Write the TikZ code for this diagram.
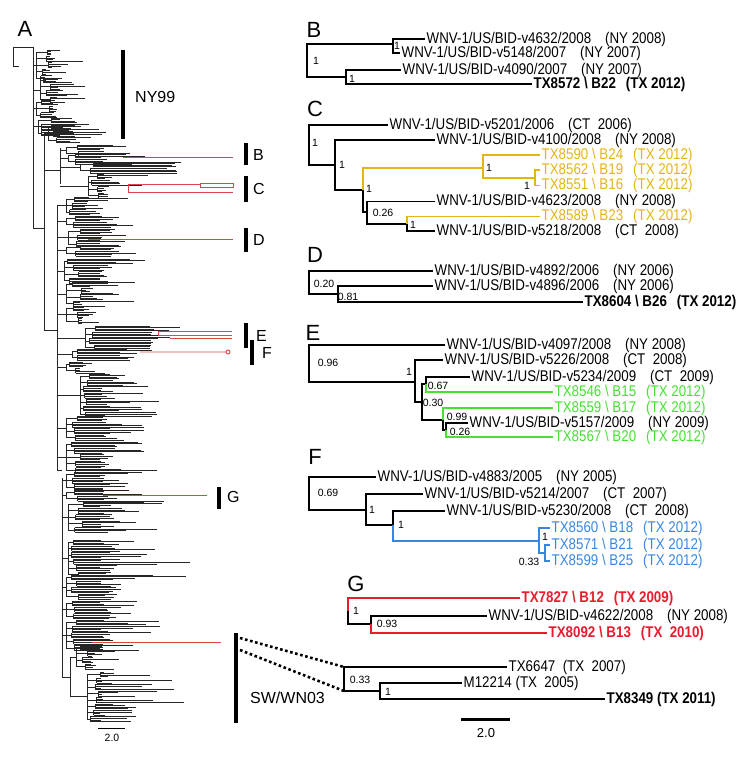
\documentclass[tikz,border=0pt]{standalone}
\usepackage{fontspec}
\setmainfont{Liberation Sans}
\newfontfamily\leaffont[FakeStretch=0.86]{Liberation Sans}
\usetikzlibrary{positioning}
\definecolor{cYel}{RGB}{228,180,20}
\definecolor{cGrn}{RGB}{70,225,50}
\definecolor{cBlu}{RGB}{55,135,225}
\definecolor{cRed}{RGB}{232,28,45}
\definecolor{cRedA}{RGB}{222,70,70}

\newcommand{\cladeA}[6]{%
  \pgfmathtruncatemacro{\cgn}{max(0,floor((#4-#3)/6.4))}%
  \pgfmathsetmacro{\cgtop}{#3+2.4}%
  \pgfmathsetmacro{\cgbot}{#3+\cgn*6.4+2.4}%
  \pgfmathsetmacro{\cgmid}{(\cgtop+\cgbot)/2}%
  \draw[twig] (#1,\cgmid) -- (#2,\cgmid) (#2,\cgtop) -- (#2,\cgbot);%
  \foreach \k in {0,...,\cgn}{%
    \pgfmathsetmacro{\cgy}{#3+\k*6.4}%
    \pgfmathsetmacro{\cgx}{#2+3+rnd*12}%
    \draw[twig] (#2,\cgy+2.4) -- (\cgx,\cgy+2.4) (\cgx,\cgy) -- (\cgx,\cgy+4.8);%
    \foreach \j in {0,...,3}{%
      \pgfmathsetmacro{\cgt}{max(\cgx+4,#5+rnd*rnd*(#6-#5))}%
      \draw[twig] (\cgx,\cgy+\j*1.6) -- (\cgt,\cgy+\j*1.6);%
    }%
  }%
}

\begin{document}
\begin{tikzpicture}[
        x=1pt, y=-1pt,
        branch/.style={line width=1.7pt},
        twig/.style={draw=black!85, line width=0.7pt},
        redA/.style={draw=cRedA, line width=0.9pt},
        leaf/.style={
            anchor=west,
            inner sep=1.5pt,
            font=\leaffont\fontsize{15.5}{16}\selectfont
        },
        tx/.style={leaf, font=\leaffont\fontsize{15.5}{16}\selectfont\bfseries},
        sup/.style={inner sep=0pt, font=\fontsize{10.5}{11}\selectfont},
        panel/.style={font=\fontsize{22}{24}\selectfont},
        clade/.style={anchor=west, inner sep=0pt, font=\fontsize{16}{18}\selectfont},
        bar/.style={line width=3.5pt},
        link/.style={line width=2.6pt, dash pattern=on 2.6pt off 2.6pt}
    ]
    \useasboundingbox (0,0) rectangle (750,757);
    \pgfmathsetseed{11}

    % A
    \node[panel] (labA) at (25,29) {A};
    \draw[twig] (13,47) -- (13,66) (13,47) -- (33,47) (13,66) -- (19,66);
    \draw[twig] (33,47) -- (33,228) -- (44,228);
    \draw[twig] (44,133) -- (44,330) -- (57,330);
    \draw[twig] (57,205) -- (57,470) -- (62,470);
    \draw[twig] (62,478) -- (62,677) -- (70,677) (70,657) -- (70,697);
    \draw[twig] (44,170) -- (60,170) (60,148) -- (60,184);
    \cladeA{33}{36}{50}{76}{42}{97}
    \cladeA{33}{40}{78}{100}{55}{102}
    \cladeA{33}{36}{100}{118}{50}{75}
    \cladeA{33}{38}{118}{132}{60}{108}
    \cladeA{44}{48}{125}{142}{70}{103}
    \cladeA{60}{66}{145}{152}{100}{157}
    \cladeA{60}{68}{153}{160}{100}{157}
    \cladeA{60}{80}{162}{172}{165}{193}
    \cladeA{60}{88}{174}{194}{100}{170}
    \cladeA{57}{66}{197}{215}{85}{115}
    \cladeA{57}{66}{216}{226}{100}{170}
    \cladeA{57}{68}{229}{244}{100}{160}
    \cladeA{57}{66}{245}{256}{110}{165}
    \cladeA{57}{64}{259}{280}{100}{170}
    \cladeA{57}{66}{282}{305}{80}{145}
    \cladeA{57}{66}{306}{324}{80}{117}
    \cladeA{57}{85}{326}{348}{150}{185}
    \cladeA{57}{72}{349}{360}{120}{157}
    \cladeA{57}{66}{362}{372}{80}{110}
    \cladeA{57}{80}{374}{414}{100}{180}
    \cladeA{57}{66}{416}{440}{100}{170}
    \cladeA{57}{66}{442}{468}{100}{183}
    \cladeA{62}{66}{472}{490}{100}{170}
    \cladeA{62}{66}{490}{500}{100}{190}
    \cladeA{62}{68}{502}{530}{100}{170}
    \cladeA{62}{68}{540}{572}{100}{207}
    \cladeA{62}{66}{575}{600}{100}{170}
    \cladeA{62}{66}{601}{618}{100}{170}
    \cladeA{62}{66}{620}{650}{100}{195}
    \cladeA{70}{76}{645}{668}{90}{150}
    \cladeA{70}{87}{672}{720}{100}{208}
    \draw[redA] (123,157) -- (233,157);
    \draw[redA] (128,184) -- (128,192) (128,184) -- (200,184)
        (200,183) rectangle (233,187.5) (128,192) -- (233,192);
    \draw[redA] (88,239) -- (233,239);
    \draw[redA] (158,331) -- (158,335) (158,331) -- (232,331)
        (158,335) -- (232,335) (170,338) -- (232,338);
    \draw[redA] (140,352) -- (226,352) (228,352) circle (2);
    \draw[redA] (103,495) -- (207,495);
    \draw[redA] (92,642) -- (221,642);
    \draw[bar] (123,50) -- (123,139);
    \node[clade] (cNY) at (135,97) {NY99};
    \draw[bar] (246,143) -- (246,165);
    \node[clade] (cB) at (253,155) {B};
    \draw[bar] (246,176) -- (246,202);
    \node[clade] (cC) at (253,189) {C};
    \draw[bar] (246,228) -- (246,252);
    \node[clade] (cD) at (253,240) {D};
    \draw[bar] (246,323) -- (246,348);
    \node[clade] (cE) at (256,336) {E};
    \draw[bar] (252,340) -- (252,365);
    \node[clade] (cF) at (262,353) {F};
    \draw[bar] (219,487) -- (219,509);
    \node[clade] (cG) at (227,497) {G};
    \draw[bar] (236,633) -- (236,723);
    \node[clade] (cSW) at (250,698) {SW/WN03};
    \draw[line width=0.8pt] (98,728) -- (125,728);
    \node[sup] (scaleA) at (112,738) {2.0};

    % B
    \node[panel] (labB) at (314,30) {B};
    \coordinate (b0) at (307,61);
    \coordinate (b1) at (393,44);
    \coordinate (b2) at (346,77);
    \node[leaf] (b4632) at (425,39) {WNV-1/US/BID-v4632/2008\hspace{14pt}(NY 2008)};
    \node[leaf] (b5148) at (400,53) {WNV-1/US/BID-v5148/2007\hspace{14pt}(NY 2007)};
    \node[leaf] (b4090) at (401,70) {WNV-1/US/BID-v4090/2007\hspace{14pt}(NY 2007)};
    \node[tx] (b8572) at (532,84) {TX8572 \textbackslash{} B22\hspace{10pt}(TX 2012)};
    \draw[branch] (b0) |- (b1) (b0) |- (b2);
    \draw[branch] (b1) |- (b4632.west) (b1) |- (b5148.west);
    \draw[branch] (b2) |- (b4090.west) (b2) |- (b8572.west);
    \node[sup] (sb0) at (316,61) {1};
    \node[sup] (sb1) at (397,46) {1};
    \node[sup] (sb2) at (352,79) {1};

    % C
    \node[panel] (labC) at (315,109) {C};
    \coordinate (c0) at (309,145);
    \coordinate (c1) at (335,165);
    \coordinate (c2) at (363,190);
    \coordinate (c3) at (483,168);
    \coordinate (c4) at (367,212);
    \coordinate (c5) at (407,224);
    \coordinate (c6) at (535,178);
    \node[leaf] (c5201) at (388,125) {WNV-1/US/BID-v5201/2006\hspace{14pt}(CT\ \ 2006)};
    \node[leaf] (c4100) at (435,140) {WNV-1/US/BID-v4100/2008\hspace{14pt}(NY 2008)};
    \node[leaf, text=cYel] (c8590) at (540,155) {TX8590 \textbackslash{} B24\hspace{10pt}(TX 2012)};
    \node[leaf, text=cYel] (c8562) at (540,170) {TX8562 \textbackslash{} B19\hspace{10pt}(TX 2012)};
    \node[leaf, text=cYel] (c8551) at (540,185.5) {TX8551 \textbackslash{} B16\hspace{10pt}(TX 2012)};
    \node[leaf] (c4623) at (435,201.5) {WNV-1/US/BID-v4623/2008\hspace{14pt}(NY 2008)};
    \node[leaf, text=cYel] (c8589) at (540,216.5) {TX8589 \textbackslash{} B23\hspace{10pt}(TX 2012)};
    \node[leaf] (c5218) at (435,231) {WNV-1/US/BID-v5218/2008\hspace{14pt}(CT\ \ 2008)};
    \draw[branch] (c0) |- (c5201.west) (c0) |- (c1);
    \draw[branch] (c1) |- (c4100.west) (c1) |- (c2);
    \draw[branch, draw=cYel] (c2) |- (c3);
    \draw[branch] (c2) |- (c4);
    \draw[branch, draw=cYel] (c3) |- (c8590.west) (c3) |- (c6);
    \draw[branch, draw=cYel] (c6) |- (c8562.west) (c6) |- (c8551.west);
    \draw[branch] (c4) |- (c4623.west) (c4) |- (c5);
    \draw[branch, draw=cYel] (c5) |- (c8589.west);
    \draw[branch] (c5) |- (c5218.west);
    \node[sup] (sc0) at (315,143) {1};
    \node[sup] (sc1) at (342,165) {1};
    \node[sup] (sc2) at (369,189) {1};
    \node[sup] (sc4) at (383,213) {0.26};
    \node[sup] (sc5) at (413,225) {1};
    \node[sup] (sc3) at (489,168) {1};
    \node[sup] (sc6) at (527,186) {1};

    % D
    \node[panel] (labD) at (315,255) {D};
    \coordinate (d0) at (309,282);
    \coordinate (d1) at (338,294);
    \node[leaf] (d4892) at (433,271) {WNV-1/US/BID-v4892/2006\hspace{14pt}(NY 2006)};
    \node[leaf] (d4896) at (433,286) {WNV-1/US/BID-v4896/2006\hspace{14pt}(NY 2006)};
    \node[tx] (d8604) at (583,302) {TX8604 \textbackslash{} B26\hspace{10pt}(TX 2012)};
    \draw[branch] (d0) |- (d4892.west) (d0) |- (d1);
    \draw[branch] (d1) |- (d4896.west) (d1) |- (d8604.west);
    \node[sup] (sd0) at (324,284) {0.20};
    \node[sup] (sd1) at (348,297) {0.81};

    % E
    \node[panel] (labE) at (313,333) {E};
    \coordinate (e0) at (309,363);
    \coordinate (e1) at (415,382);
    \coordinate (e2) at (422,402);
    \coordinate (e3) at (426,384);
    \coordinate (e4) at (443,420);
    \coordinate (e5) at (446,430);
    \node[leaf] (e4097) at (445,345) {WNV-1/US/BID-v4097/2008\hspace{14pt}(NY 2008)};
    \node[leaf] (e5226) at (443,360) {WNV-1/US/BID-v5226/2008\hspace{14pt}(CT\ \ 2008)};
    \node[leaf] (e5234) at (470,377) {WNV-1/US/BID-v5234/2009\hspace{14pt}(CT\ \ 2009)};
    \node[leaf, text=cGrn] (e8546) at (553,392) {TX8546 \textbackslash{} B15\hspace{10pt}(TX 2012)};
    \node[leaf, text=cGrn] (e8559) at (553,408) {TX8559 \textbackslash{} B17\hspace{10pt}(TX 2012)};
    \node[leaf] (e5157) at (468,423) {WNV-1/US/BID-v5157/2009\hspace{14pt}(NY 2009)};
    \node[leaf, text=cGrn] (e8567) at (553,437) {TX8567 \textbackslash{} B20\hspace{10pt}(TX 2012)};
    \draw[branch] (e0) |- (e4097.west) (e0) |- (e1);
    \draw[branch] (e1) |- (e5226.west) (e1) |- (e2);
    \draw[branch] (e2) |- (e3) (e2) |- (e4);
    \draw[branch] (e3) |- (e5234.west);
    \draw[branch, draw=cGrn] (e3) |- (e8546.west);
    \draw[branch, draw=cGrn] (e4) |- (e8559.west);
    \draw[branch] (e4) |- (e5);
    \draw[branch] (e5) |- (e5157.west);
    \draw[branch, draw=cGrn] (e5) |- (e8567.west);
    \node[sup] (se0) at (328,363) {0.96};
    \node[sup] (se1) at (409,372) {1};
    \node[sup] (se2) at (433,403) {0.30};
    \node[sup] (se3) at (438,386) {0.67};
    \node[sup] (se4) at (457,417) {0.99};
    \node[sup] (se5) at (460,432) {0.26};

    % F
    \node[panel] (labF) at (315,457) {F};
    \coordinate (f0) at (309,493);
    \coordinate (f1) at (366,510);
    \coordinate (f2) at (393,525);
    \coordinate (f3) at (539,541);
    \coordinate (f4) at (545,553);
    \node[leaf] (f4883) at (376,477) {WNV-1/US/BID-v4883/2005\hspace{14pt}(NY 2005)};
    \node[leaf] (f5214) at (423,494) {WNV-1/US/BID-v5214/2007\hspace{14pt}(CT\ \ 2007)};
    \node[leaf] (f5230) at (445,511) {WNV-1/US/BID-v5230/2008\hspace{14pt}(CT\ \ 2008)};
    \node[leaf, text=cBlu] (f8560) at (550,528) {TX8560 \textbackslash{} B18\hspace{10pt}(TX 2012)};
    \node[leaf, text=cBlu] (f8571) at (550,545) {TX8571 \textbackslash{} B21\hspace{10pt}(TX 2012)};
    \node[leaf, text=cBlu] (f8599) at (550,561) {TX8599 \textbackslash{} B25\hspace{10pt}(TX 2012)};
    \draw[branch] (f0) |- (f4883.west) (f0) |- (f1);
    \draw[branch] (f1) |- (f5214.west) (f1) |- (f2);
    \draw[branch] (f2) |- (f5230.west);
    \draw[branch, draw=cBlu] (f2) |- (f3);
    \draw[branch, draw=cBlu] (f3) |- (f8560.west) (f3) |- (f4);
    \draw[branch, draw=cBlu] (f4) |- (f8571.west) (f4) |- (f8599.west);
    \node[sup] (sf0) at (328,493) {0.69};
    \node[sup] (sf1) at (372,510) {1};
    \node[sup] (sf2) at (401,525) {1};
    \node[sup] (sf3) at (545,537) {1};
    \node[sup] (sf4) at (529,562) {0.33};

    % G
    \node[panel] (labG) at (356,584) {G};
    \coordinate (g0) at (348,611);
    \coordinate (g1) at (371,624);
    \node[tx, text=cRed] (g7827) at (520,598) {TX7827 \textbackslash{} B12\hspace{10pt}(TX 2009)};
    \node[leaf] (g4622) at (487,616) {WNV-1/US/BID-v4622/2008\hspace{14pt}(NY 2008)};
    \node[tx, text=cRed] (g8092) at (547,633) {TX8092 \textbackslash{} B13\hspace{10pt}(TX\ \ 2010)};
    \draw[branch, draw=cRed] (g0) |- (g7827.west);
    \draw[branch] (g0) |- (g1);
    \draw[branch] (g1) |- (g4622.west);
    \draw[branch, draw=cRed] (g1) |- (g8092.west);
    \node[sup] (sg0) at (356,611) {1};
    \node[sup] (sg1) at (387,624) {0.93};

    % SW/WN03 inset
    \coordinate (s0) at (344,679);
    \coordinate (s1) at (380,691);
    \coordinate (sTop) at (344,667);
    \coordinate (swA1) at (240,638);
    \coordinate (swA2) at (240,650);
    \node[leaf] (s6647) at (507,667) {TX6647\ \ (TX\ \ 2007)};
    \node[leaf] (s12214) at (462,683) {M12214\ (TX\ \ 2005)};
    \node[tx] (s8349) at (605,699) {TX8349 (TX 2011)};
    \draw[branch] (s0) |- (s6647.west) (s0) |- (s1);
    \draw[branch] (s1) |- (s12214.west) (s1) |- (s8349.west);
    \draw[link] (swA1) -- (sTop);
    \draw[link] (swA2) -- (s0 |- s1);
    \node[sup] (ss0) at (360,680) {0.33};
    \node[sup] (ss1) at (388,692) {1};
    \draw[line width=3pt] (461,719) -- (510,719);
    \node[sup, font=\fontsize{13}{14}\selectfont] (scaleB) at (486,733) {2.0};
\end{tikzpicture}
\end{document}
